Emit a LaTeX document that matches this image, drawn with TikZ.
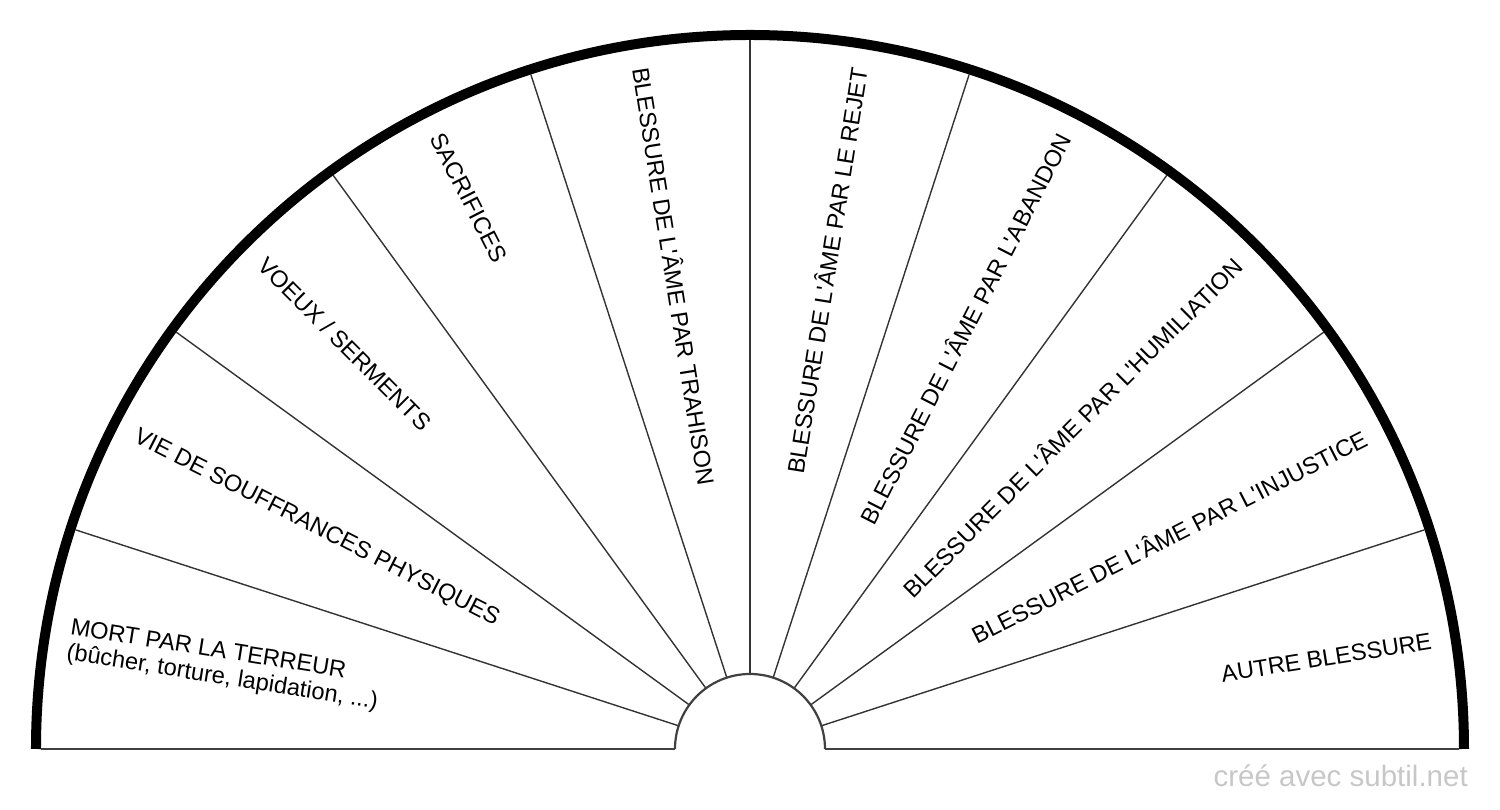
\documentclass[tikz,border=0pt]{standalone}
\usepackage{fontspec}
\setmainfont{Liberation Sans}[Ligatures=TeXOff]
\begin{document}
\begin{tikzpicture}[x=1pt,y=1pt,
  divider/.style={draw=black!80, line width=1.4},
  baseln/.style={draw=black!75, line width=2.2},
  rim/.style={draw=black, line width=10},
  lbl/.style={font=\fontsize{23.6}{25.5}\selectfont, inner sep=0pt, text=black},
  lleft/.style={lbl, anchor=west},
  lright/.style={lbl, anchor=east},
  wmark/.style={font=\fontsize{29.5}{30}\selectfont, text=black!22, inner sep=0pt, anchor=base east}
]
\useasboundingbox (-750,-61) rectangle (750,749);
% dividers
\foreach \a in {18,36,...,162} \draw[divider] (\a:75) -- (\a:709);
% inner semicircle
\draw[baseln] (75,0) arc (0:180:75);
% base lines
\draw[baseln] (-709,0) -- (-75,0);
\draw[baseln] (75,0) -- (709,0);
% outer rim
\draw[rim] (714,0) arc (0:180:714);
% labels left half
\node[lleft, rotate=-9, align=left] (l1) at (171:690) {MORT PAR LA TERREUR\\(bûcher, torture, lapidation, ...)};
\node[lleft, rotate=-27] (l2) at (153:690) {VIE DE SOUFFRANCES PHYSIQUES};
\node[lleft, rotate=-45] (l3) at (135:690) {VOEUX / SERMENTS};
\node[lleft, rotate=-63] (l4) at (117:690) {SACRIFICES};
\node[lleft, rotate=-81] (l5) at (99:690) {BLESSURE DE L'ÂME PAR TRAHISON};
% labels right half
\node[lright, rotate=81] (l6) at (81:690) {BLESSURE DE L'ÂME PAR LE REJET};
\node[lright, rotate=63] (l7) at (63:690) {BLESSURE DE L'ÂME PAR L'ABANDON};
\node[lright, rotate=45] (l8) at (45:690) {BLESSURE DE L'ÂME PAR L'HUMILIATION};
\node[lright, rotate=27] (l9) at (27:690) {BLESSURE DE L'ÂME PAR L'INJUSTICE};
\node[lright, rotate=9] (l10) at (9:690) {AUTRE BLESSURE};
% watermark
\node[wmark] (wm) at (718,-38) {créé avec subtil.net};
\end{tikzpicture}
\end{document}
